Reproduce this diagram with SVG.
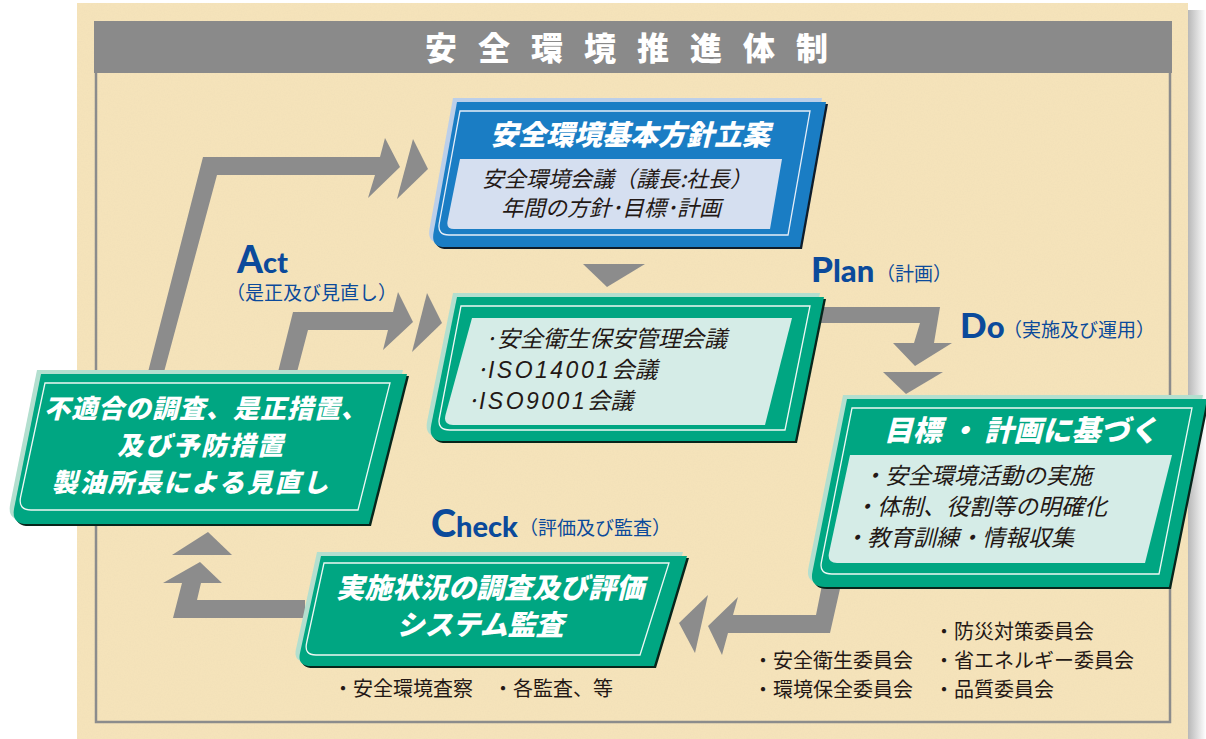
<svg xmlns="http://www.w3.org/2000/svg" width="1206" height="739" viewBox="0 0 1206 739">
<defs>
<style>
.jp{font-family:"Noto Sans CJK JP","Noto Sans CJK SC",sans-serif;}
.band{fill:#8c8c8c;}
.gshadow{fill:#07251b;}
.gbevel{fill:#b3dfcf;}
.gface{fill:#00a682;}
.wline{fill:none;stroke:#eef8f4;stroke-width:1.3;}
.gcontent{fill:#d5ece7;}
.btitle{font-family:"Noto Sans CJK JP",sans-serif;font-weight:900;font-style:italic;fill:#ffffff;}
.btext{font-family:"Noto Sans CJK JP",sans-serif;font-weight:400;font-style:italic;fill:#231815;}
.plain{font-family:"Noto Sans CJK JP",sans-serif;font-weight:400;fill:#231815;font-size:20px;}
.lbl{font-family:Lato,"Open Sans",sans-serif;font-weight:900;fill:#0b4a9b;}
.lblj{font-family:"Noto Sans CJK JP",sans-serif;font-weight:400;fill:#0b4a9b;font-size:19px;}
</style>
<linearGradient id="rshadow" x1="0" y1="0" x2="1" y2="0">
<stop offset="0" stop-color="#b8b8b8"/>
<stop offset="1" stop-color="#ffffff"/>
</linearGradient>
<filter id="tex" x="0" y="0" width="100%" height="100%">
<feTurbulence type="fractalNoise" baseFrequency="0.7" numOctaves="2" seed="3" result="n"/>
<feColorMatrix in="n" type="matrix" values="0 0 0 0 0.80  0 0 0 0 0.68  0 0 0 0 0.46  0 0 0 -1.6 1.05" result="c"/>
<feComposite in="c" in2="SourceGraphic" operator="in"/>
</filter>
</defs>

<!-- background -->
<rect x="0" y="0" width="1206" height="739" fill="#ffffff"/>
<rect x="1188" y="10" width="18" height="729" fill="url(#rshadow)"/>
<rect x="77" y="3" width="1111" height="736" fill="#f5e3ba"/>
<rect x="77" y="3" width="1111" height="736" fill="#f5e3ba" filter="url(#tex)" opacity="0.25"/>

<!-- frame -->
<g id="frame">
<rect x="94" y="21" width="1078" height="52" fill="#8a8a8a"/>
<path d="M96,73 L96,722 L1170,722 L1170,73" fill="none" stroke="#8c8c8c" stroke-width="2.5"/>
<text x="425" y="60" class="jp" font-size="32" font-weight="900" fill="#ffffff" letter-spacing="21">安全環境推進体制</text>
</g>

<!-- connectors -->
<g id="connectors">
<!-- Act outer -->
<polygon class="band" points="148,372 203,157 380,157 385,138 400,167 368,198 375,175 217,175 164,372"/>
<polygon class="band" points="413,139 428,169 397,199"/>
<!-- Act inner -->
<polygon class="band" points="278,372 293,312 393,312 398,292 413,322 383,350 388,330 308,330 297,372"/>
<polygon class="band" points="427,293 442,323 412,352"/>
<!-- top to middle -->
<polygon class="band" points="583,264 645,264 607,287"/>
<!-- Plan / Do -->
<polygon class="band" points="805,307 940,307 934,343 952,343 915,366 893,343 914,343 920,323 805,323"/>
<polygon class="band" points="883,372 943,372 906,394"/>
<!-- Do to Check -->
<polygon class="band" points="842,580 830,633 728,633 722,655 708,626 738,597 733,615 816,615 823,580"/>
<polygon class="band" points="708,595 679,623 695,653"/>
<!-- Check to Act -->
<polygon class="band" points="305,600 197,600 201,583 222,583 200,562 163,583 182,583 173,618 305,618"/>
<polygon class="band" points="172,555 232,555 208,532"/>
</g>

<!-- Plan policy box (blue) -->
<g id="node-policy">
<path d="M453,98 L822,98 L796,243 L441,243 Q427,243 429.5,229 Z" fill="#0e1c2a" transform="translate(6,6)"/>
<path d="M453,98 L822,98 L796,243 L441,243 Q427,243 429.5,229 Z" fill="#bccfe9"/>
<path d="M453,98 L822,98 L796,243 L441,243 Q427,243 429.5,229 Z" fill="#1a7dc4" transform="translate(4,4)"/>
<path d="M460,111 L810,111 L788,235 L449,235 Q437,235 439.3,223 Z" fill="none" stroke="#e6eef8" stroke-width="1.3"/>
<path d="M460,159 L782,159 L770,229 L454,229 Q446,229 447.6,221 Z" fill="#d5dff0"/>
<text x="630" y="145" class="btitle" font-size="28" text-anchor="middle">安全環境基本方針立案</text>
<text x="617" y="187" class="btext" font-size="22" text-anchor="middle">安全環境会議（議長:社長）</text>
<text x="611" y="216" class="btext" font-size="22" text-anchor="middle">年間の方針･目標･計画</text>
</g>

<!-- meetings box -->
<g id="node-meetings">
<path d="M453,293 L820,293 L791,437 L440,437 Q424,437 427.2,421 Z" class="gshadow" transform="translate(6,6)"/>
<path d="M453,293 L820,293 L791,437 L440,437 Q424,437 427.2,421 Z" class="gbevel"/>
<path d="M453,293 L820,293 L791,437 L440,437 Q424,437 427.2,421 Z" class="gface" transform="translate(4,4)"/>
<path d="M461,306 L810,306 L785,430 L450,430 Q437,430 439.4,418 Z" class="wline"/>
<path d="M472,318 L792,318 L765,425 L453,425 Q443,425 445.5,415 Z" class="gcontent"/>
<text x="484" y="347" class="btext" font-size="23">·安全衛生保安管理会議</text>
<text x="475" y="378" class="btext" font-size="23">·<tspan font-family="Liberation Sans,sans-serif" letter-spacing="2.5">ISO14001</tspan>会議</text>
<text x="466" y="409" class="btext" font-size="23">·<tspan font-family="Liberation Sans,sans-serif" letter-spacing="2.5">ISO9001</tspan>会議</text>
</g>

<!-- Do box -->
<g id="node-do">
<path d="M843,395 L1203,395 L1165,583 L821,583 Q805,583 808.6,567 Z" class="gshadow" transform="translate(6,6)"/>
<path d="M843,395 L1203,395 L1165,583 L821,583 Q805,583 808.6,567 Z" class="gbevel"/>
<path d="M843,395 L1203,395 L1165,583 L821,583 Q805,583 808.6,567 Z" class="gface" transform="translate(4,4)"/>
<path d="M852,408 L1192,408 L1159,574 L832,574 Q819,574 821.4,562 Z" class="wline"/>
<path d="M850,455 L1172,455 L1145,563 L837,563 Q827,563 829,553 Z" class="gcontent"/>
<text x="1021" y="441" class="btitle" font-size="29" text-anchor="middle">目標 ・ 計画に基づく</text>
<text x="862" y="484" class="btext" font-size="23">・安全環境活動の実施</text>
<text x="854" y="515" class="btext" font-size="23">・体制、役割等の明確化</text>
<text x="844" y="546" class="btext" font-size="23">・教育訓練・情報収集</text>
</g>

<!-- Act box -->
<g id="node-act">
<path d="M37,370 L403,370 L365,520 L23,520 Q7,520 10.2,504 Z" class="gshadow" transform="translate(6,6)"/>
<path d="M37,370 L403,370 L365,520 L23,520 Q7,520 10.2,504 Z" class="gbevel"/>
<path d="M37,370 L403,370 L365,520 L23,520 Q7,520 10.2,504 Z" class="gface" transform="translate(4,4)"/>
<path d="M45,383 L390,383 L358,510 L31,510 Q18,510 20.6,497 Z" class="wline"/>
<text x="206" y="418" class="btitle" font-size="26" letter-spacing="1" text-anchor="middle">不適合の調査、是正措置、</text>
<text x="201" y="455" class="btitle" font-size="26" letter-spacing="2" text-anchor="middle">及び予防措置</text>
<text x="191" y="492" class="btitle" font-size="26" letter-spacing="2" text-anchor="middle">製油所長による見直し</text>
</g>

<!-- Check box -->
<g id="node-check">
<path d="M317,552 L683,552 L650,662 L307,662 Q293,662 296,649 Z" class="gshadow" transform="translate(6,6)"/>
<path d="M317,552 L683,552 L650,662 L307,662 Q293,662 296,649 Z" class="gbevel"/>
<path d="M317,552 L683,552 L650,662 L307,662 Q293,662 296,649 Z" class="gface" transform="translate(4,4)"/>
<path d="M324,563 L669,563 L640,655 L316,655 Q304,655 306.6,643 Z" class="wline"/>
<text x="490" y="598" class="btitle" font-size="28" text-anchor="middle">実施状況の調査及び評価</text>
<text x="480" y="635" class="btitle" font-size="28" text-anchor="middle">システム監査</text>
</g>

<!-- PDCA labels -->
<g id="labels">
<text x="237" y="273" class="lbl"><tspan font-size="37">A</tspan><tspan font-size="29">ct</tspan></text>
<text x="226" y="300" class="lblj">（是正及び見直し）</text>
<text x="811" y="282" class="lbl"><tspan font-size="35">P</tspan><tspan font-size="31">lan</tspan></text>
<text x="876" y="281" class="lblj">（計画）</text>
<text x="960" y="338" class="lbl"><tspan font-size="35">D</tspan><tspan font-size="31">o</tspan></text>
<text x="1003" y="337" class="lblj">（実施及び運用）</text>
<text x="431" y="537" class="lbl"><tspan font-size="38">C</tspan><tspan font-size="29">heck</tspan></text>
<text x="519" y="535" class="lblj">（評価及び監査）</text>
</g>

<!-- notes -->
<g id="notes">
<text x="333" y="696" class="plain">・安全環境査察　・各監査、等</text>
<text x="934" y="639" class="plain">・防災対策委員会</text>
<text x="753" y="668" class="plain">・安全衛生委員会</text>
<text x="934" y="668" class="plain">・省エネルギー委員会</text>
<text x="753" y="697" class="plain">・環境保全委員会</text>
<text x="934" y="697" class="plain">・品質委員会</text>
</g>
</svg>
